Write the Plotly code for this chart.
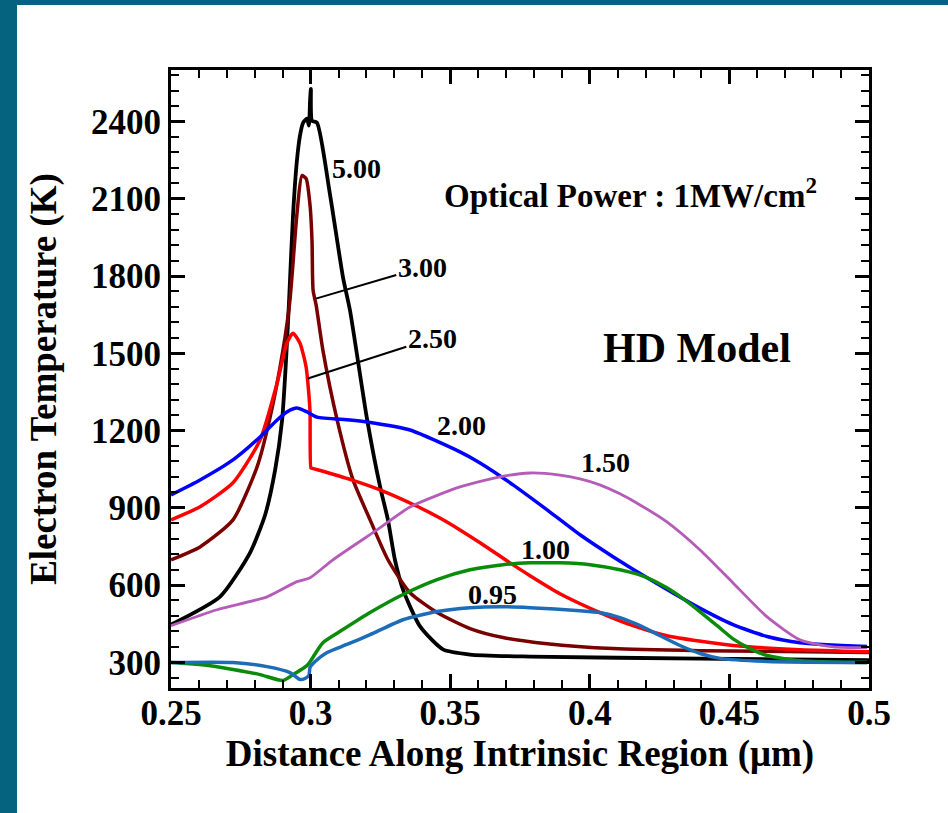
import plotly.graph_objects as go

# ---- data (x in micrometres, electron temperature in K) ----
x_500 = [0.25, 0.2676, 0.2783, 0.2837, 0.2873, 0.2898, 0.2912, 0.2923, 0.2937, 0.2951, 0.2962, 0.2973,
         0.2987, 0.2994, 0.2998, 0.3001, 0.3005, 0.3023, 0.3069, 0.3116, 0.3141, 0.3202, 0.3249, 0.3277,
         0.3302, 0.3331, 0.3392, 0.3474, 0.3571, 0.3786, 0.4395, 0.5]
t_500 = [446, 555, 725, 872, 1047, 1241, 1473, 1706, 2035, 2248, 2345, 2395,
         2411, 2384, 2480, 2527, 2403, 2395, 2120, 1795, 1667, 1245, 981, 853,
         698, 582, 439, 350, 330, 322, 314, 308]

x_300 = [0.25, 0.2604, 0.2722, 0.2808, 0.2855, 0.2901, 0.2926, 0.2951, 0.2969, 0.2984, 0.2998, 0.3005,
         0.3009, 0.302, 0.3044, 0.3095, 0.3152, 0.3213, 0.3277, 0.3356, 0.3453, 0.3571, 0.3689, 0.3847,
         0.4083, 0.4395, 0.5]
t_300 = [698, 748, 853, 1058, 1252, 1512, 1706, 2040, 2190, 2178, 2074, 1938,
         1744, 1686, 1512, 1241, 1008, 853, 698, 570, 493, 431, 396, 372,
         353, 345, 338]

x_250 = [0.25, 0.2604, 0.2722, 0.2819, 0.288, 0.2915, 0.2937, 0.2962, 0.2984, 0.2994, 0.2998, 0.3001,
         0.3004, 0.3141, 0.3259, 0.3381, 0.3463, 0.3535, 0.3607, 0.3703, 0.3786, 0.3893, 0.4036, 0.4155,
         0.4276, 0.4513, 0.4753, 0.5]
t_250 = [853, 904, 997, 1163, 1384, 1539, 1578, 1539, 1446, 1338, 1272, 1055,
         1054, 1010, 965, 906, 860, 814, 764, 694, 636, 566, 493, 442,
         403, 365, 349, 341]

x_200 = [0.25, 0.2604, 0.2722, 0.2819, 0.288, 0.2915, 0.2951, 0.2987, 0.3023, 0.3141, 0.3202, 0.3356,
         0.3535, 0.3607, 0.3725, 0.3847, 0.3965, 0.4083, 0.4216, 0.4384, 0.4513, 0.4635, 0.4753, 0.4993]
t_200 = [950, 1008, 1086, 1175, 1241, 1272, 1287, 1272, 1252, 1241, 1233, 1202,
         1117, 1074, 989, 892, 795, 710, 621, 516, 446, 400, 376, 361]

x_150 = [0.25, 0.2665, 0.2844, 0.2951, 0.2998, 0.308, 0.3238, 0.3356, 0.3535, 0.3678, 0.3786, 0.3893,
         0.3965, 0.4036, 0.4108, 0.4180, 0.4276, 0.4395, 0.4513, 0.4635, 0.4753, 0.4871, 0.4993]
t_150 = [442, 504, 554, 613, 628, 698, 814, 903, 981, 1020, 1035, 1027,
         1012, 989, 954, 911, 845, 736, 608, 476, 387, 360, 357]

x_100 = [0.25, 0.2604, 0.2722, 0.2819, 0.2901, 0.2937, 0.2987, 0.3001, 0.3044, 0.3116, 0.3213, 0.3331,
         0.3453, 0.3571, 0.3689, 0.3786, 0.3893, 0.4001, 0.4108, 0.4198, 0.4276, 0.4334, 0.4395, 0.4456,
         0.4513, 0.4574, 0.4635, 0.4753, 0.4993]
t_100 = [299, 291, 272, 252, 229, 252, 287, 307, 376, 427, 493, 563,
         621, 659, 679, 686, 686, 679, 659, 632, 589, 547, 496, 442,
         391, 353, 326, 306, 299]

x_095 = [0.25, 0.2722, 0.2844, 0.2926, 0.2962, 0.298, 0.2994, 0.2998, 0.3016, 0.3059, 0.313, 0.3213,
         0.3331, 0.3453, 0.3571, 0.3678, 0.3786, 0.3965, 0.4036, 0.4108, 0.4180, 0.4252, 0.4323, 0.4395,
         0.4466, 0.4635, 0.4993]
t_095 = [299, 299, 283, 260, 233, 237, 249, 280, 303, 338, 369, 407,
         465, 497, 512, 516, 512, 500, 493, 473, 442, 403, 365, 334,
         315, 303, 299]

x_ticks = [0.25, 0.3, 0.35, 0.4, 0.45, 0.5]
x_tick_text = ["0.25", "0.3", "0.35", "0.4", "0.45", "0.5"]
y_ticks = [300, 600, 900, 1200, 1500, 1800, 2100, 2400]
y_tick_text = ["300", "600", "900", "1200", "1500", "1800", "2100", "2400"]

series = [
    ("5.00", x_500, t_500, "#000000", 3.8),
    ("3.00", x_300, t_300, "#7a0000", 3.5),
    ("2.50", x_250, t_250, "#ff0000", 3.5),
    ("2.00", x_200, t_200, "#0000ff", 3.5),
    ("1.50", x_150, t_150, "#b45cb8", 2.8),
    ("1.00", x_100, t_100, "#0a8c0a", 3.5),
    ("0.95", x_095, t_095, "#1c6cb8", 3.5),
]

# label positions (x, y) for curve labels; some with leader lines to a curve point
labels = [
    ("5.00", 0.3166, 2217, None),
    ("3.00", 0.3400, 1834, (0.3019, 1712)),
    ("2.50", 0.3436, 1558, (0.2990, 1402)),
    ("2.00", 0.3539, 1221, None),
    ("1.50", 0.4058, 1074, None),
    ("1.00", 0.3840, 737, None),
    ("0.95", 0.3650, 562, None),
]

FONT = "Liberation Serif"

fig = go.Figure()
for name, xs, ys, color, w in series:
    fig.add_trace(go.Scatter(x=xs, y=ys, mode="lines", name=name,
                             line=dict(color=color, width=w, shape="spline", smoothing=0.6),
                             showlegend=False))

annotations = []
for text, lx, ly, pt in labels:
    if pt is None:
        annotations.append(dict(x=lx, y=ly, xref="x", yref="y", text=text, showarrow=False,
                                font=dict(family=FONT, size=28, color="black", weight="bold")))
    else:
        annotations.append(dict(x=pt[0], y=pt[1], xref="x", yref="y", ax=lx, ay=ly,
                                axref="x", ayref="y", text=text, showarrow=True,
                                arrowhead=0, arrowwidth=2, arrowcolor="black", standoff=0,
                                font=dict(family=FONT, size=28, color="black", weight="bold")))

annotations.append(dict(x=0.4147, y=2124, xref="x", yref="y",
                        text="Optical Power : 1MW/cm<sup>2</sup>", showarrow=False,
                        font=dict(family=FONT, size=33, color="black", weight="bold")))
annotations.append(dict(x=0.4384, y=1520, xref="x", yref="y", text="HD Model", showarrow=False,
                        font=dict(family=FONT, size=42, color="black", weight="bold")))

teal = "#05637f"
shapes = [
    dict(type="rect", xref="paper", yref="paper", x0=-0.30, x1=-0.2206, y0=-0.30, y1=1.20,
         fillcolor=teal, line=dict(width=0), layer="above"),
    dict(type="rect", xref="paper", yref="paper", x0=-0.30, x1=1.20, y0=1.1052, y1=1.20,
         fillcolor=teal, line=dict(width=0), layer="above"),
]

axis_common = dict(showline=True, linecolor="black", linewidth=3, mirror="ticks",
                   ticks="inside", ticklen=14, tickwidth=3, tickcolor="black",
                   showgrid=False, zeroline=False,
                   tickfont=dict(family=FONT, size=35, color="black", weight="bold"))

fig.update_layout(
    width=948, height=813,
    margin=dict(l=171, r=79, t=70, b=125),
    paper_bgcolor="white", plot_bgcolor="white",
    annotations=annotations, shapes=shapes,
    xaxis=dict(range=[0.25, 0.5], tickvals=x_ticks, ticktext=x_tick_text,
               ticklabelstandoff=-8,
               minor=dict(dtick=0.01, tick0=0.25, ticks="inside", ticklen=8, tickwidth=1.5,
                          tickcolor="black", showgrid=False),
               title=dict(text="Distance Along Intrinsic Region (\u03bcm)", standoff=0,
                          font=dict(family=FONT, size=37, color="black", weight="bold")),
               automargin=False, **axis_common),
    yaxis=dict(range=[200, 2600], tickvals=y_ticks, ticktext=y_tick_text,
               minor=dict(dtick=60, tick0=300, ticks="inside", ticklen=8, tickwidth=1.5,
                          tickcolor="black", showgrid=False),
               title=dict(text="Electron Temperature (K)", standoff=24,
                          font=dict(family=FONT, size=37, color="black", weight="bold")),
               automargin=False, **axis_common),
)

fig.write_html("out.html")
